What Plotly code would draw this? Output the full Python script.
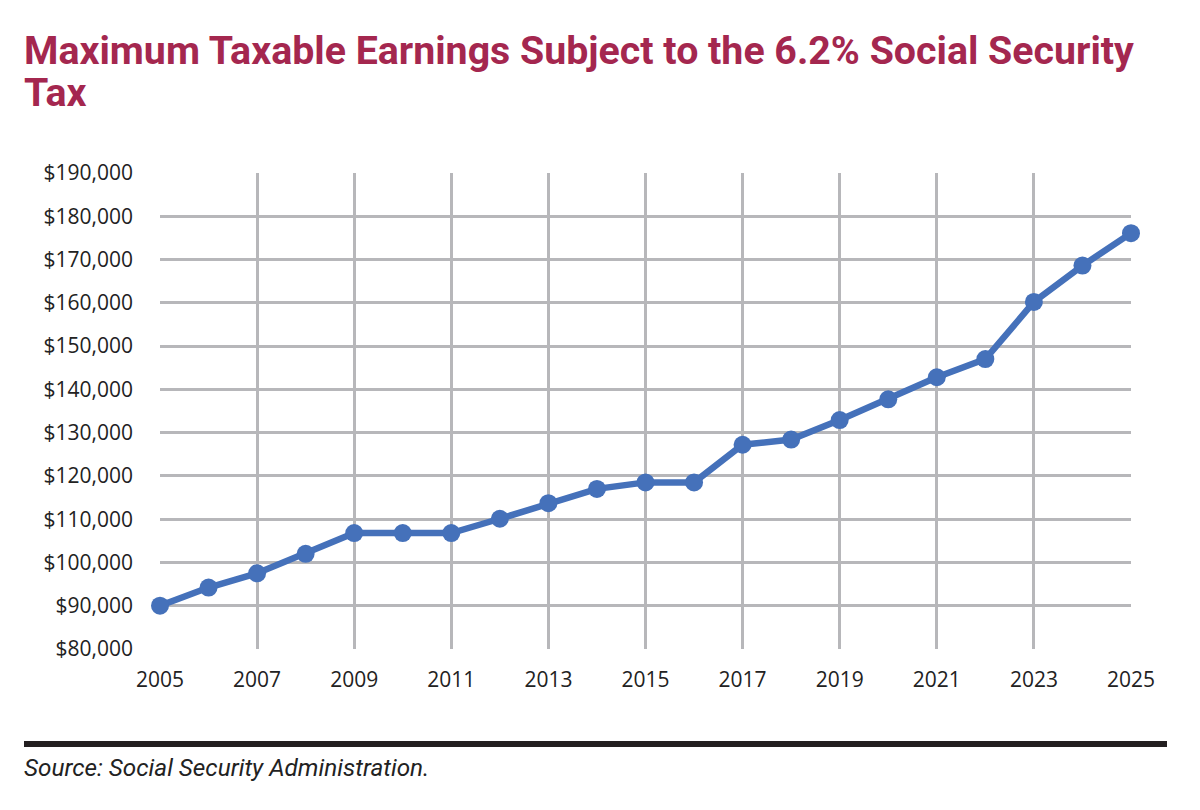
import plotly.graph_objects as go

years = list(range(2005, 2026))
wage_base = [90000, 94200, 97500, 102000, 106800, 106800, 106800, 110100, 113700, 117000,
             118500, 118500, 127200, 128400, 132900, 137700, 142800, 147000, 160200, 168600, 176100]
y_ticks = list(range(80000, 190001, 10000))
x_ticks = list(range(2005, 2026, 2))

title_line1 = "Maximum Taxable Earnings Subject to the 6.2% Social Security"
title_line2 = "Tax"
source_text = "Source: Social Security Administration."

OFF = 8  # page offset compensation
L, R, T, B = 160 - OFF, 69 + OFF, 173 - OFF, 161 + OFF

fig = go.Figure()
fig.add_trace(go.Scatter(
    x=years, y=wage_base, mode="lines+markers",
    line=dict(color="#4571BA", width=6.5),
    marker=dict(color="#4571BA", size=18),
    cliponaxis=False, hoverinfo="skip", showlegend=False,
))

plot_h = 810 - T - B
plot_w = 1200 - L - R
def px_x(px):
    return (px - OFF - L) / plot_w
def px_y(py):
    return (810 - B - (py - OFF)) / plot_h

fig.update_layout(
    width=1200, height=810,
    paper_bgcolor="white", plot_bgcolor="white",
    margin=dict(l=L, r=R, t=T, b=B),
    font=dict(family="Open Sans", color="#222222"),
    xaxis=dict(range=[2005, 2025], tickvals=x_ticks, showgrid=True, gridcolor="#B7B7BA",
               gridwidth=2.5, zeroline=False, showline=False, ticks="",
               tickfont=dict(size=21, family="Open Sans", color="#222222"),
               ticklabelstandoff=16),
    yaxis=dict(range=[80000, 190000], tickvals=y_ticks, tickformat="$,.0f", showgrid=True,
               gridcolor="#B7B7BA", gridwidth=2.5, zeroline=False, showline=False, ticks="",
               tickfont=dict(size=21, family="Open Sans", color="#222222"),
               ticklabelstandoff=26),
    annotations=[
        dict(text="<b>" + title_line1 + "</b>", xref="paper", yref="paper",
             x=px_x(22), xanchor="left", y=px_y(51), yanchor="middle", showarrow=False, align="left",
             font=dict(family="Roboto", size=39.3, color="#A4274F")),
        dict(text="<b>" + title_line2 + "</b>", xref="paper", yref="paper",
             x=px_x(22), xanchor="left", y=px_y(93), yanchor="middle", showarrow=False, align="left",
             font=dict(family="Roboto", size=39.3, color="#A4274F")),
        dict(text="<i>" + source_text + "</i>", xref="paper", yref="paper",
             x=px_x(22), y=px_y(767), xanchor="left", yanchor="middle", showarrow=False, align="left",
             font=dict(family="Roboto", size=24.3, color="#222222")),
    ],
    shapes=[dict(type="line", xref="paper", yref="paper", x0=px_x(24), x1=px_x(1167),
                 y0=px_y(744), y1=px_y(744), line=dict(color="#231F20", width=6))],
)

fig.write_html("out.html")
